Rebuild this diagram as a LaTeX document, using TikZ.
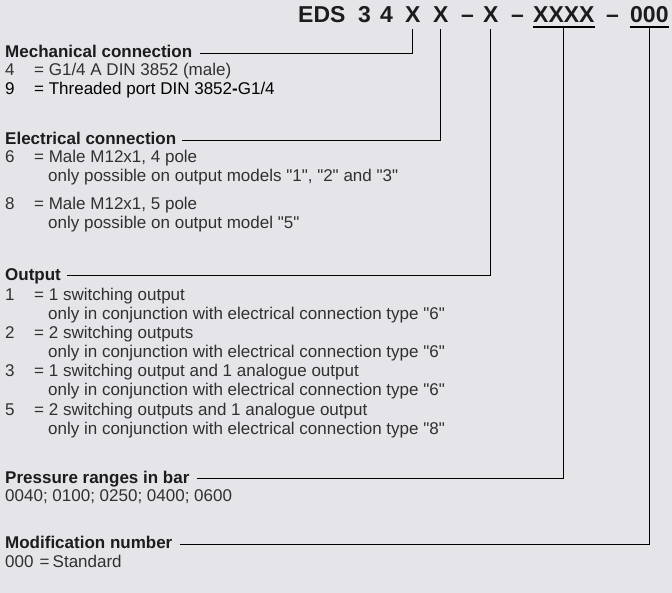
\documentclass[tikz,border=0pt]{standalone}
\usepackage{fontspec}
\setmainfont{Liberation Sans}[Ligatures=TeXOff]
\definecolor{bgc}{RGB}{229,229,233}
\definecolor{txc}{RGB}{48,48,48}
\definecolor{hdc}{RGB}{28,28,28}
\tikzset{
  ttl/.style={anchor=base west,inner sep=0pt,font=\fontsize{23}{26}\selectfont\bfseries,text=hdc},
  hd/.style={anchor=base west,inner sep=0pt,font=\fontsize{17}{19}\selectfont\bfseries,text=hdc},
  bd/.style={anchor=base west,inner sep=0pt,font=\fontsize{17}{19}\selectfont,text=txc},
  conn/.style={draw=black,line width=0.9pt},
  uline/.style={draw=black,line width=1.7pt}
}
\begin{document}
\begin{tikzpicture}[x=1pt,y=-1pt]
\useasboundingbox (0,0) rectangle (672,593);
\fill[bgc] (0,0) rectangle (672,593);
% title
\node[ttl] (eds) at (298,23) {EDS};
\node[ttl] (t3) at (358,23) {3};
\node[ttl] (t4) at (380,23) {4};
\node[ttl] (x1) at (405,23) {X};
\node[ttl] (x2) at (433,23) {X};
\node[ttl] (d1) at (461,23) {–};
\node[ttl] (x3) at (483,23) {X};
\node[ttl] (d2) at (511,23) {–};
\node[ttl] (x4) at (533,23) {XXXX};
\node[ttl] (d3) at (606,23) {–};
\node[ttl] (x5) at (630,23) {000};
\draw[uline] ([yshift=-4pt]x4.base west) -- ([yshift=-4pt]x4.base east);
\draw[uline] ([yshift=-4pt]x5.base west) -- ([yshift=-4pt]x5.base east);
\coordinate (c1) at ([yshift=-6pt]x1.base);
\coordinate (c2) at ([yshift=-6pt]x2.base);
\coordinate (c3) at ([yshift=-6pt]x3.base);
\coordinate (c4) at ([yshift=-4pt]x4.base);
\coordinate (c5) at ([yshift=-4pt]x5.base);
% mechanical
\node[hd] (mech) at (5,57.3) {Mechanical connection};
\node[bd] (m4n) at (5,76) {4};
\node[bd] (m4t) at (34,76) {= G1/4 A DIN 3852 (male)};
\node[bd,text=black] (m9n) at (5,95) {9};
\node[bd,text=black] (m9t) at (34,95) {= Threaded port DIN 3852\textbf{-}G1/4};
% electrical
\node[hd] (elec) at (5,145) {Electrical connection};
\node[bd] (e6n) at (5,163) {6};
\node[bd] (e6t) at (34,163) {= Male M12x1, 4 pole};
\node[bd] (e6c) at (48,182) {only possible on output models "1", "2" and "3"};
\node[bd] (e8n) at (5,210) {8};
\node[bd] (e8t) at (34,210) {= Male M12x1, 5 pole};
\node[bd] (e8c) at (48,229) {only possible on output model "5"};
% output
\node[hd] (outp) at (5,280.7) {Output};
\node[bd] (o1n) at (5,300.3) {1};
\node[bd] (o1t) at (34,300.3) {= 1 switching output};
\node[bd] (o1c) at (48,319.3) {only in conjunction with electrical connection type "6"};
\node[bd] (o2n) at (5,338.5) {2};
\node[bd] (o2t) at (34,338.5) {= 2 switching outputs};
\node[bd] (o2c) at (48,357.5) {only in conjunction with electrical connection type "6"};
\node[bd] (o3n) at (5,376.8) {3};
\node[bd] (o3t) at (34,376.8) {= 1 switching output and 1 analogue output};
\node[bd] (o3c) at (48,395.8) {only in conjunction with electrical connection type "6"};
\node[bd] (o5n) at (5,415) {5};
\node[bd] (o5t) at (34,415) {= 2 switching outputs and 1 analogue output};
\node[bd] (o5c) at (48,434) {only in conjunction with electrical connection type "8"};
% pressure
\node[hd] (pres) at (5,483) {Pressure ranges in bar};
\node[bd] (pv) at (5,501) {0040; 0100; 0250; 0400; 0600};
% modification
\node[hd] (modn) at (5,548.5) {Modification number};
\node[bd] (m0n) at (5,567) {000};
\node[bd] (m0e) at (39.5,567) {=};
\node[bd] (m0t) at (52.5,567) {Standard};
% connectors
\draw[conn] ([xshift=8pt,yshift=3.5pt]mech.base east) -| (c1);
\draw[conn] ([xshift=6pt,yshift=4.5pt]elec.base east) -| (c2);
\draw[conn] ([xshift=6pt,yshift=5pt]outp.base east) -| (c3);
\draw[conn] ([xshift=7pt,yshift=4.5pt]pres.base east) -| (c4);
\draw[conn] ([xshift=7pt,yshift=4.5pt]modn.base east) -| (c5);
\end{tikzpicture}
\end{document}
